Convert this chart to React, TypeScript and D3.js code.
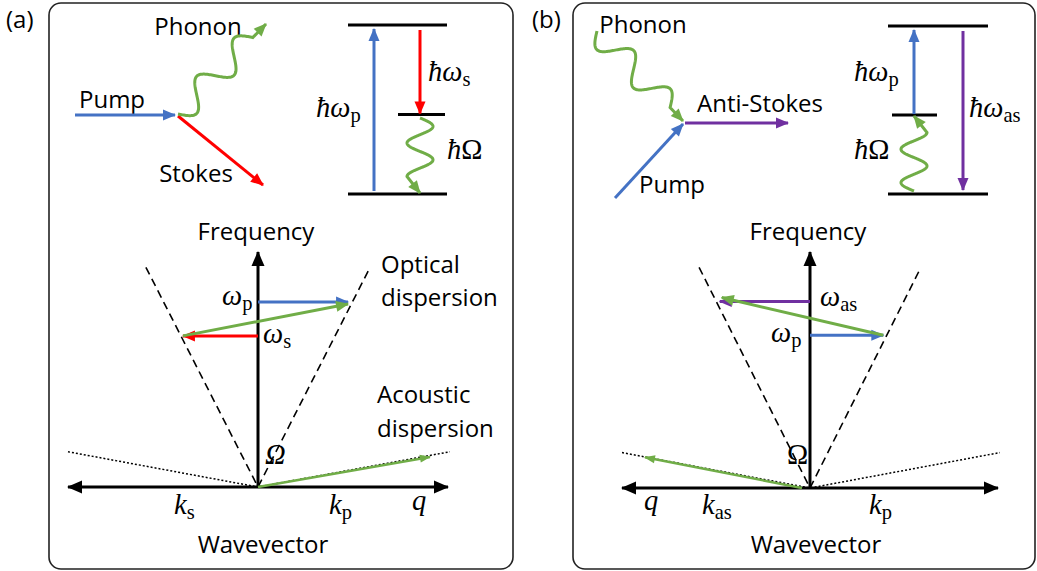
import React from "react";
import * as d3 from "d3";

// ---------- data ----------
const panelLabels = ["(a)", "(b)"];
const colors = { pump: "#4472C4", stokes: "#FF0000", phonon: "#70AD47", anti: "#7030A0", axis: "#000000" };

// energy levels (normalised energy): ground, virtual, upper
const levelEnergies = [0, 0.47, 1];

// dispersion diagram (normalised wavevector k, frequency w)
const kExtent = [-1, 1];
const wExtent = [0, 1];
const opticalK = 0.59; // dashed light-cone extent
const opticalW = 0.935;
const acousticW = 0.15; // dotted acoustic line height at |k| = 1

// panel (a) Stokes
const pumpA = { k: 0.474, w: 0.787 };
const stokesA = { k: -0.395, w: 0.643 };
const phononA = { k: 0.905, w: 0.128 };
// panel (b) anti-Stokes
const pumpB = { k: 0.39, w: 0.647 };
const antiB = { k: -0.48, w: 0.79 };
const phononB = { k: -0.878, w: 0.13 };

// ---------- layout ----------
const W = 1037, H = 571;
const serif = "'Liberation Serif', 'DejaVu Serif', serif";
const sans = "'Open Sans', 'Noto Sans', sans-serif";
const FS = 24;
const MS = 28.5;

function wavePath(x0: number, y0: number, x1: number, y1: number, periods: number, amp: number, tail: number, sign = 1) {
  const dx = x1 - x0, dy = y1 - y0, L = Math.hypot(dx, dy);
  const ux = dx / L, uy = dy / L, nx = -uy, ny = ux;
  const wl = L * (1 - tail);
  const pts: [number, number][] = [];
  for (let i = 0; i <= 160; i++) {
    const s = (wl * i) / 160;
    const o = sign * amp * Math.sin((2 * Math.PI * periods * s) / wl);
    pts.push([x0 + ux * s + nx * o, y0 + uy * s + ny * o]);
  }
  pts.push([x1, y1]);
  return d3.line()(pts) as string;
}

function Marker({ id, color, len, wid }: { id: string; color: string; len: number; wid: number }) {
  return (
    <marker id={id} markerUnits="userSpaceOnUse" markerWidth={len} markerHeight={wid} refX={len - 1} refY={wid / 2} orient="auto" overflow="visible">
      <path d={`M0,0 L${len},${wid / 2} L0,${wid} Z`} fill={color} />
    </marker>
  );
}

function Arrow({ x1, y1, x2, y2, color, w = 3, m }: any) {
  return <line x1={x1} y1={y1} x2={x2} y2={y2} stroke={color} strokeWidth={w} markerEnd={`url(#${m})`} />;
}

function MathLbl({ x, y, pre, base, sub, size = MS, upright = false }: any) {
  return (
    <text x={x} y={y} fontFamily={serif} fontSize={size}>
      {pre ? <tspan fontStyle="italic">{pre}</tspan> : null}
      <tspan fontStyle={upright ? "normal" : "italic"}>{base}</tspan>
      {sub ? (
        <tspan fontSize={size * 0.72} dy={5} fontStyle="normal">
          {sub}
        </tspan>
      ) : null}
    </text>
  );
}

function Txt({ x, y, children, anchor = "middle" }: any) {
  return (
    <text x={x} y={y} fontFamily={sans} fontSize={FS} textAnchor={anchor} fill="#000">
      {children}
    </text>
  );
}

function Dispersion({ x0, x1, yTop, yBase, variant }: { x0: number; x1: number; yTop: number; yBase: number; variant: "a" | "b" }) {
  const x = d3.scaleLinear().domain(kExtent).range([x0, x1]);
  const y = d3.scaleLinear().domain(wExtent).range([yBase, yTop]);
  const line = d3.line<[number, number]>().x((d) => x(d[0])).y((d) => y(d[1]));
  const ox = x(0), oy = y(0);
  const pump = variant === "a" ? pumpA : pumpB;
  const sig = variant === "a" ? stokesA : antiB;
  const phon = variant === "a" ? phononA : phononB;
  const sigColor = variant === "a" ? colors.stokes : colors.anti;
  return (
    <g>
      {/* optical dispersion */}
      <path d={line([[-opticalK, opticalW], [0, 0], [opticalK, opticalW]]) as string} fill="none" stroke="#000" strokeWidth={1.6} strokeDasharray="8,5" />
      {/* acoustic dispersion */}
      <path d={line([[-1, acousticW], [0, 0], [1.01, acousticW]]) as string} fill="none" stroke="#000" strokeWidth={1.5} strokeDasharray="2,2" />
      {/* axes */}
      <line x1={ox} y1={oy} x2={x(kExtent[0])} y2={oy} stroke="#000" strokeWidth={3} markerEnd="url(#axHead)" />
      <line x1={ox} y1={oy} x2={x(kExtent[1])} y2={oy} stroke="#000" strokeWidth={3} markerEnd="url(#axHead)" />
      <line x1={ox} y1={oy} x2={ox} y2={yTop} stroke="#000" strokeWidth={3} markerEnd="url(#axHead)" />
      {/* frequency arrows */}
      <Arrow x1={ox} y1={y(pump.w)} x2={x(pump.k)} y2={y(pump.w)} color={colors.pump} m="hPump" />
      <Arrow x1={ox} y1={y(sig.w)} x2={x(sig.k)} y2={y(sig.w)} color={sigColor} m={variant === "a" ? "hStokes" : "hAnti"} />
      {/* phonon wavevector connecting the optical points */}
      {variant === "a" ? (
        <Arrow x1={x(sig.k)} y1={y(sig.w)} x2={x(pump.k)} y2={y(pump.w) + 2} color={colors.phonon} m="hPhon" />
      ) : (
        <Arrow x1={x(pump.k)} y1={y(pump.w)} x2={x(sig.k) + 2} y2={y(sig.w) - 4} color={colors.phonon} m="hPhon" />
      )}
      {/* acoustic phonon */}
      <Arrow x1={ox - (variant === "b" ? 8 : 0)} y1={oy} x2={x(phon.k)} y2={y(phon.w)} color={colors.phonon} w={2.5} m="hPhonS" />
    </g>
  );
}

function Levels({ xL, xR, xMidL, xMidR, yTop, yBot }: any) {
  const y = d3.scaleLinear().domain([0, 1]).range([yBot, yTop]);
  return (
    <g>
      {levelEnergies.map((e, i) => (
        <line key={i} x1={i === 1 ? xMidL : xL} x2={i === 1 ? xMidR : xR} y1={y(e)} y2={y(e)} stroke="#000" strokeWidth={3} />
      ))}
    </g>
  );
}

export default function App() {
  const ey = d3.scaleLinear().domain([0, 1]).range([194, 25]);
  const eyB = d3.scaleLinear().domain([0, 1]).range([194, 26]);
  return (
    <svg width={W} height={H} style={{ position: "absolute", left: 0, top: 0, background: "#fff" }}>
      <defs>
        <Marker id="hPump" color={colors.pump} len={13} wid={11} />
        <Marker id="hStokes" color={colors.stokes} len={13} wid={11} />
        <Marker id="hAnti" color={colors.anti} len={13} wid={11} />
        <Marker id="hPhon" color={colors.phonon} len={13} wid={11} />
        <Marker id="hPhonS" color={colors.phonon} len={11} wid={8} />
        <Marker id="axHead" color="#000" len={15} wid={13} />
      </defs>
      <rect width={W} height={H} fill="#fff" />
      {/* panel frames */}
      <rect x={49} y={3} width={464} height={566} rx={12} fill="none" stroke="#222" strokeWidth={1.6} />
      <rect x={573} y={3} width={462} height={566} rx={12} fill="none" stroke="#222" strokeWidth={1.6} />
      <text x={6} y={28} fontFamily={sans} fontSize={FS}>{panelLabels[0]}</text>
      <text x={532} y={28} fontFamily={sans} fontSize={FS}>{panelLabels[1]}</text>

      {/* ===== panel (a) top: scattering ===== */}
      <Txt x={198} y={35}>Phonon</Txt>
      <Txt x={112} y={108}>Pump</Txt>
      <Txt x={196} y={182}>Stokes</Txt>
      <Arrow x1={75} y1={115} x2={175} y2={115} color={colors.pump} m="hPump" />
      <Arrow x1={178} y1={116} x2={263} y2={185} color={colors.stokes} m="hStokes" />
      <path d={wavePath(178, 114, 266, 24, 2, 13, 0.15, 1)} fill="none" stroke={colors.phonon} strokeWidth={3} markerEnd="url(#hPhon)" />

      {/* panel (a) energy levels */}
      <Levels xL={348} xR={447} xMidL={398} xMidR={445} yTop={25} yBot={194} />
      <Arrow x1={374} y1={191} x2={374} y2={ey(1) + 4} color={colors.pump} m="hPump" />
      <Arrow x1={420} y1={ey(1) + 5} x2={420} y2={ey(levelEnergies[1]) - 1} color={colors.stokes} m="hStokes" />
      <path d={wavePath(420, 118, 420, 193, 1.75, 13, 0.22, -1)} fill="none" stroke={colors.phonon} strokeWidth={3} markerEnd="url(#hPhon)" />
      <MathLbl x={316} y={117} pre="ħ" base="ω" sub="p" />
      <MathLbl x={428} y={81} pre="ħ" base="ω" sub="s" />
      <MathLbl x={447} y={159} pre="ħ" base="Ω" upright />

      {/* panel (a) dispersion */}
      <Txt x={256} y={240}>Frequency</Txt>
      <Dispersion x0={68} x1={448} yTop={252} yBase={487} variant="a" />
      <Txt x={381} y={273} anchor="start">Optical</Txt>
      <Txt x={381} y={306} anchor="start">dispersion</Txt>
      <Txt x={377} y={403} anchor="start">Acoustic</Txt>
      <Txt x={377} y={437} anchor="start">dispersion</Txt>
      <MathLbl x={222} y={305} base="ω" sub="p" />
      <MathLbl x={263} y={343} base="ω" sub="s" />
      <MathLbl x={265} y={464} base="Ω" />
      <MathLbl x={174} y={514} base="k" sub="s" />
      <MathLbl x={329} y={514} base="k" sub="p" />
      <MathLbl x={412} y={510} base="q" />
      <Txt x={263} y={553}>Wavevector</Txt>

      {/* ===== panel (b) top: scattering ===== */}
      <Txt x={643} y={33}>Phonon</Txt>
      <Txt x={760} y={112}>Anti-Stokes</Txt>
      <Txt x={672} y={193}>Pump</Txt>
      <path d={wavePath(597, 31, 683, 121, 2, 13, 0.15, 1)} fill="none" stroke={colors.phonon} strokeWidth={3} markerEnd="url(#hPhon)" />
      <Arrow x1={615} y1={198} x2={683} y2={124} color={colors.pump} m="hPump" />
      <Arrow x1={685} y1={123} x2={788} y2={123} color={colors.anti} m="hAnti" />

      {/* panel (b) energy levels */}
      <Levels xL={888} xR={988} xMidL={892} xMidR={937} yTop={26} yBot={194} />
      <Arrow x1={914} y1={eyB(levelEnergies[1]) - 1} x2={914} y2={eyB(1) + 4} color={colors.pump} m="hPump" />
      <Arrow x1={963} y1={eyB(1) + 5} x2={963} y2={190} color={colors.anti} m="hAnti" />
      <path d={wavePath(914, 191, 914, 116, 1.75, 13, 0.22, -1)} fill="none" stroke={colors.phonon} strokeWidth={3} markerEnd="url(#hPhon)" />
      <MathLbl x={854} y={81} pre="ħ" base="ω" sub="p" />
      <MathLbl x={969} y={117} pre="ħ" base="ω" sub="as" />
      <MathLbl x={854} y={159} pre="ħ" base="Ω" upright />

      {/* panel (b) dispersion */}
      <Txt x={808} y={240}>Frequency</Txt>
      <Dispersion x0={622} x1={998} yTop={252} yBase={488} variant="b" />
      <MathLbl x={820} y={306} base="ω" sub="as" />
      <MathLbl x={771} y={342} base="ω" sub="p" />
      <MathLbl x={787} y={464} base="Ω" upright />
      <MathLbl x={644} y={510} base="q" />
      <MathLbl x={702} y={514} base="k" sub="as" />
      <MathLbl x={869} y={514} base="k" sub="p" />
      <Txt x={816} y={553}>Wavevector</Txt>
    </svg>
  );
}
